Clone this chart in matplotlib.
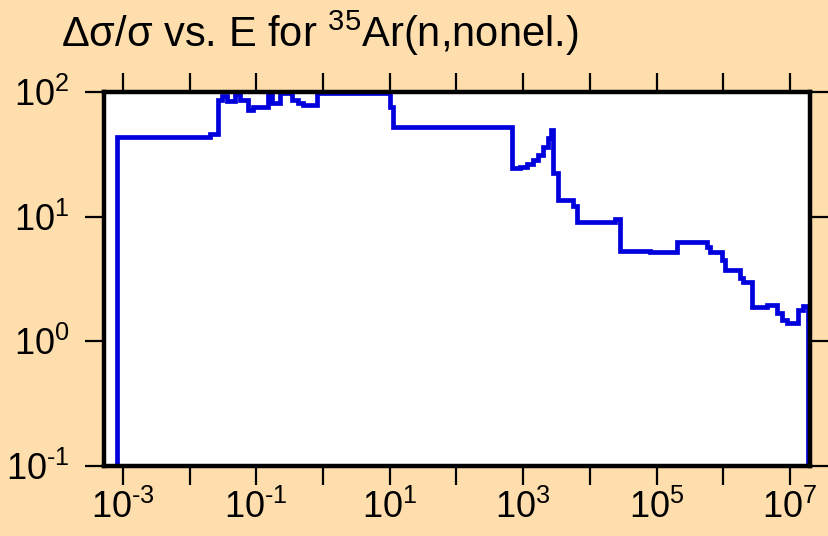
import numpy as np
import matplotlib
matplotlib.use("Agg")
import matplotlib.pyplot as plt
from matplotlib.ticker import FixedLocator, FixedFormatter

plt.rcParams['font.family'] = ['Liberation Sans', 'DejaVu Sans']
plt.rcParams['mathtext.fontset'] = 'custom'
plt.rcParams['mathtext.rm'] = 'Liberation Sans'
plt.rcParams['mathtext.it'] = 'Liberation Sans:italic'
plt.rcParams['mathtext.bf'] = 'Liberation Sans:bold'

# Bin edges (energy, eV) and relative uncertainty values (%)
energy_edges = [8.1e-4, 0.0201, 0.0266, 0.0305, 0.0362, 0.0477, 0.0568, 0.0748,
                0.0889, 0.149, 0.171, 0.226, 0.342, 0.42, 0.50, 0.81, 10.07, 11.2,
                679, 895, 1140, 1400, 1670, 1980, 2350, 2610, 2800, 3330, 5580,
                6410, 23800, 28200, 79600, 2.02e5, 5.70e5, 6.32e5, 9.57e5, 1.06e6,
                1.77e6, 1.97e6, 2.69e6, 4.52e6, 6.38e6, 7.59e6, 9.02e6, 1.32e7,
                1.57e7, 1.86e7]
rel_unc = [43.6, 46, 86, 93, 85, 96, 86, 72, 76, 98, 82, 98, 86, 82, 79, 98, 76,
           52, 24.6, 25, 26.5, 28.5, 31.2, 36, 43, 50, 22.4, 13.6, 12.2, 9.06,
           9.5, 5.3, 5.2, 6.27, 5.72, 5.21, 4.5, 3.74, 3.22, 2.99, 1.89, 1.96,
           1.69, 1.49, 1.41, 1.79, 1.92]

x_tick_exps = list(range(-3, 8))
x_label_exps = [-3, -1, 1, 3, 5, 7]
y_tick_exps = [-1, 0, 1, 2]


def exp_label(e):
    s = str(e).replace('-', '\u2010')
    return r'$\mathregular{10^{%s}}$' % s


bg = '#FFDEAD'
fig = plt.figure(figsize=(8.29, 5.36), dpi=100, facecolor=bg)
ax = fig.add_axes([104/829, 70/536, 706/829, 374/536])
ax.set_facecolor('white')

ax.stairs(rel_unc, energy_edges, baseline=1e-5, color='#0000dd', linewidth=3.4)

ax.set_xscale('log')
ax.set_yscale('log')
ax.set_xlim(5.2e-4, 2.0e7)
ax.set_ylim(0.1, 100)

xt = [10.0**e for e in x_tick_exps]
xl = [exp_label(e) if e in x_label_exps else '' for e in x_tick_exps]
ax.xaxis.set_major_locator(FixedLocator(xt))
ax.xaxis.set_major_formatter(FixedFormatter(xl))
ax.xaxis.set_minor_locator(FixedLocator([]))
yt = [10.0**e for e in y_tick_exps]
yl = [exp_label(e) for e in y_tick_exps]
ax.yaxis.set_major_locator(FixedLocator(yt))
ax.yaxis.set_major_formatter(FixedFormatter(yl))
ax.yaxis.set_minor_locator(FixedLocator([]))

ax.tick_params(axis='both', which='major', direction='out', length=14, width=1.6,
               labelsize=26, color='black', top=True, right=True)
ax.tick_params(axis='x', pad=3)
ax.tick_params(axis='y', pad=11)

for s in ax.spines.values():
    s.set_linewidth(3.2)
    s.set_color('black')

fig.text(61/829, 1 - 47/536, r'Δσ/σ vs. E for $^{35}$Ar(n,nonel.)', fontsize=30,
         ha='left', va='baseline', color='black')

fig.savefig('out.png', dpi=100, facecolor=bg)
